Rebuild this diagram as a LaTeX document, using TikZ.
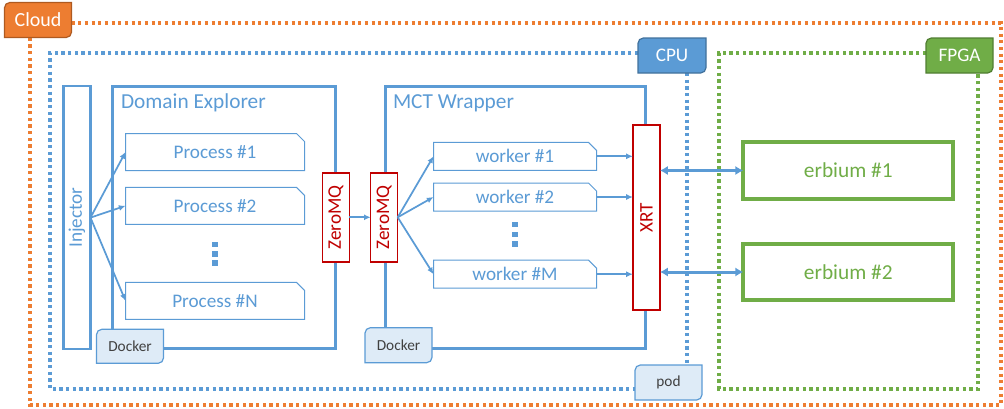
\documentclass[tikz,border=0pt]{standalone}
\usepackage{fontspec}
\setmainfont{Carlito}
\usepackage{graphicx}
\usetikzlibrary{arrows.meta,shapes.misc}
\definecolor{bluec}{HTML}{5B9BD5}
\definecolor{bluedk}{HTML}{41719C}
\definecolor{bluelt}{HTML}{DEEBF7}
\definecolor{orangec}{HTML}{ED7D31}
\definecolor{orangedk}{HTML}{AE5A21}
\definecolor{greenc}{HTML}{70AD47}
\definecolor{greendk}{HTML}{507E32}
\definecolor{redc}{HTML}{C00000}
\definecolor{grayt}{HTML}{404040}
\pgfdeclarelayer{bglayer}
\pgfdeclarelayer{tablayer}
\pgfsetlayers{bglayer,tablayer,main}
\newcommand\tabshape[3]{\begin{pgfonlayer}{tablayer}\filldraw[fill=#2,draw=#3,line width=0.9pt] (#1.north east) -- ([xshift=4pt]#1.north west) arc[start angle=90,end angle=180,radius=4pt] -- (#1.south west) -- ([xshift=-4pt]#1.south east) arc[start angle=-90,end angle=0,radius=4pt] -- cycle;\end{pgfonlayer}}
\tikzset{
  wh/.style 2 args={minimum width=#1*0.75pt,minimum height=#2*0.75pt},
  fbig/.style={font=\fontsize{16}{19}\selectfont},
  fmid/.style={font=\fontsize{14.4}{17}\selectfont},
  fsmall/.style={font=\fontsize{11.5}{13}\selectfont},
  bigbox/.style={draw=bluec,line width=2.25pt},
  procbox/.style={chamfered rectangle,chamfered rectangle corners=north east,
     chamfered rectangle xsep=3pt,chamfered rectangle ysep=3pt,
     draw=bluec,line width=0.75pt,text=bluec,fmid,fill=white},
  redbox/.style={draw=redc,line width=1.1pt,text=redc,fmid,fill=white},
  erbbox/.style={draw=greenc,line width=3pt,text=greenc,fbig},
  arr/.style={draw=bluec,line width=1.3pt,-{Latex[length=5pt,width=4.5pt]}},
  darr/.style={draw=bluec,line width=2.25pt,{Latex[length=6pt,width=7pt]}-{Latex[length=6pt,width=7pt]}},
  dotline/.style={line width=2.4pt,dash pattern=on 2.4pt off 2.6pt},
}
\begin{document}
\begin{tikzpicture}[x=0.75pt,y=0.75pt,every node/.style={inner sep=0pt,outer sep=0pt}]
\useasboundingbox (0,0) rectangle (1004,-408);

% tabs
\node[font=\fontsize{15}{18}\selectfont,text=white,wh={67}{35}] (cloud) at (38,-20) {Cloud};
\tabshape{cloud}{orangec}{orangedk}
\node[fmid,text=white,wh={68}{35}] (cpu) at (672,-55.5) {CPU};
\tabshape{cpu}{bluec}{bluedk}
\node[fmid,text=white,wh={67}{35}] (fpga) at (959.5,-55.5) {FPGA};
\tabshape{fpga}{greenc}{greendk}
\node[fsmall,text=grayt,wh={67}{35}] (pod) at (668.5,-382.5) {pod};
\tabshape{pod}{bluelt}{bluec}
\node[fsmall,text=grayt,wh={67}{34}] (docker1) at (130,-346.3) {Docker};
\tabshape{docker1}{bluelt}{bluec}
\node[fsmall,text=grayt,wh={67}{35}] (docker2) at (398.5,-345.2) {Docker};
\tabshape{docker2}{bluelt}{bluec}

% frames
\coordinate (otr) at (1001,-405);
\coordinate (obl) at (30,-405);
\coordinate (btl) at (50,-53);
\coordinate (bbl) at (50,-389);
\coordinate (cpux) at (687,0);
\coordinate (gtl) at (719,-53);
\coordinate (gbl) at (719,-389);
\coordinate (gbr) at (978,-389);
\begin{pgfonlayer}{bglayer}
\draw[dotline,orangec] (cloud.east |- 0,-23) -| (otr) -- (obl) -- (obl |- cloud.south);
\draw[dotline,bluec] (btl -| cpu.west) -- (btl) -- (bbl) -- (bbl -| pod.west);
\draw[dotline,bluec] (cpu.south -| cpux) -- (pod.north -| cpux);
\draw[dotline,greenc] (gtl -| fpga.west) -- (gtl) -- (gbl) -- (gbr) -- (gbr |- fpga.south);
\node[bigbox,wh={223}{262}] (de) at (224.2,-217) {};
\node[bigbox,wh={260}{262}] (mct) at (515,-217) {};
\end{pgfonlayer}

\node[fbig,text=bluec,anchor=west] (detitle) at (121,-103) {Domain Explorer};
\node[fbig,text=bluec,anchor=west] (mcttitle) at (393,-103) {MCT Wrapper};

% injector
\node[draw=bluec,line width=1.6pt,text=bluec,fmid,wh={27}{263}] (inj) at (77,-217.6) {\rotatebox{90}{Injector}};

% processes
\node[procbox,wh={179}{37}] (p1) at (215,-152) {Process \#1};
\node[procbox,wh={179}{37}] (p2) at (215,-205.8) {Process \#2};
\node[procbox,wh={179}{37}] (pn) at (215,-300.8) {Process \#N};
\foreach \yy in {244.5,253.8,263.1} \fill[bluec] (212.2,-\yy+2.7) rectangle ++(5.6,-5.4);

% zeromq
\node[redbox,wh={27}{89}] (zmq1) at (335.8,-217.3) {\rotatebox{90}{ZeroMQ}};
\node[redbox,wh={27}{89}] (zmq2) at (384.2,-217.3) {\rotatebox{90}{ZeroMQ}};

% workers
\node[procbox,wh={163}{28}] (w1) at (515,-156.3) {worker \#1};
\node[procbox,wh={163}{28}] (w2) at (515,-197) {worker \#2};
\node[procbox,wh={163}{28}] (wm) at (515,-274.2) {worker \#M};
\foreach \yy in {224.5,234.2,243.9} \fill[bluec] (511.9,-\yy+2.7) rectangle ++(5.6,-5.4);

% XRT
\node[redbox,wh={27}{185}] (xrt) at (646.4,-217.5) {\rotatebox{90}{XRT}};

% erbium
\node[erbbox,wh={210}{57}] (e1) at (848.3,-170.5) {erbium \#1};
\node[erbbox,wh={210}{56}] (e2) at (848.3,-272) {erbium \#2};

% arrows
\draw[arr] (inj.east) -- (p1.west);
\draw[arr] (inj.east) -- (p2.west);
\draw[arr] (inj.east) -- (pn.west);
\draw[arr] (zmq1.east) -- (zmq2.west);
\draw[arr] (zmq2.east) -- (w1.west);
\draw[arr] (zmq2.east) -- (w2.west);
\draw[arr] (zmq2.east) -- (wm.west);
\draw[arr] (w1.east) -- (w1.east -| xrt.west);
\draw[arr] (w2.east) -- (w2.east -| xrt.west);
\draw[arr] (wm.east) -- (wm.east -| xrt.west);
\draw[darr] (xrt.east |- e1.west) -- (e1.west);
\draw[darr] (xrt.east |- e2.west) -- (e2.west);
\end{tikzpicture}
\end{document}
